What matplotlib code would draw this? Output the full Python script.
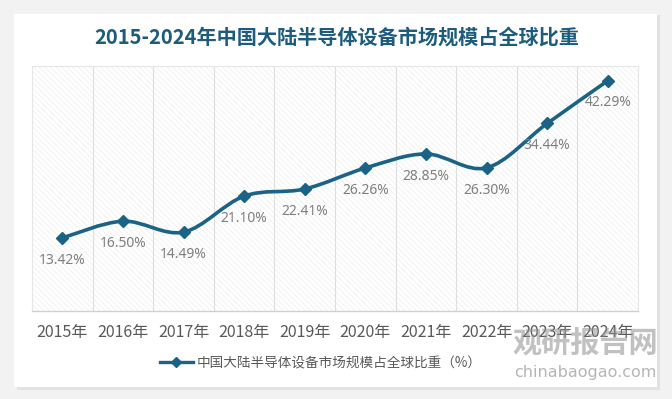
import matplotlib
matplotlib.use("Agg")
import matplotlib.pyplot as plt
from matplotlib.path import Path
from matplotlib.patches import PathPatch, Rectangle
from matplotlib.lines import Line2D
import numpy as np

plt.rcParams['font.family'] = ['Noto Sans CJK SC', 'DejaVu Sans']
plt.rcParams['hatch.linewidth'] = 0.5

years = ['2015年', '2016年', '2017年', '2018年', '2019年', '2020年', '2021年', '2022年', '2023年', '2024年']
share = [13.42, 16.50, 14.49, 21.10, 22.41, 26.26, 28.85, 26.30, 34.44, 42.29]
series_name = '中国大陆半导体设备市场规模占全球比重（%）'
title = '2015-2024年中国大陆半导体设备市场规模占全球比重'

LINE = '#1b6386'
W, H = 672, 399
fig = plt.figure(figsize=(W / 100, H / 100), dpi=100)
fig.patch.set_facecolor('#f2f2f2')

# card with shadow
fig.patches.append(Rectangle((17 / W, 1 - 390 / H), 643 / W, 375 / H, transform=fig.transFigure,
                             facecolor='#e2e2e2', edgecolor='none', zorder=-3))
fig.patches.append(Rectangle((14 / W, 1 - 387 / H), 643 / W, 373 / H, transform=fig.transFigure,
                             facecolor='white', edgecolor='none', zorder=-2))

ax = fig.add_axes([32 / W, 1 - 311 / H, (638 - 32) / W, (311 - 66) / H])
ax.patch.set_alpha(0)
ax.add_patch(Rectangle((0, 0), 1, 1, transform=ax.transAxes, facecolor='white',
                       edgecolor='#ededed', hatch='\\\\\\\\\\\\', linewidth=0, zorder=0))

x = np.arange(len(share))
y = np.array(share)

# smooth curve (Excel-like Catmull-Rom Bezier through the data points)
verts = [(x[0], y[0])]
codes = [Path.MOVETO]
n = len(x)
for i in range(n - 1):
    p0 = np.array([x[max(i - 1, 0)], y[max(i - 1, 0)]])
    p1 = np.array([x[i], y[i]])
    p2 = np.array([x[i + 1], y[i + 1]])
    p3 = np.array([x[min(i + 2, n - 1)], y[min(i + 2, n - 1)]])
    c1 = p1 + (p2 - p0) / 6
    c2 = p2 - (p3 - p1) / 6
    verts += [tuple(c1), tuple(c2), tuple(p2)]
    codes += [Path.CURVE4] * 3
ax.add_patch(PathPatch(Path(verts, codes), facecolor='none', edgecolor=LINE, linewidth=2.6, zorder=3))
ax.plot(x, y, linestyle='none', marker='D', markersize=6.5, color=LINE, zorder=4)

for xi, yi in zip(x, y):
    ax.annotate(f'{yi:.2f}%', (xi, yi), xytext=(0, -16), textcoords='offset points',
                ha='center', va='center', fontsize=10, color='#7f7f7f',
                family=['Noto Sans', 'DejaVu Sans'], zorder=5)

ax.set_xlim(-0.5, n - 0.5)
ax.set_ylim(0, 45)
ax.set_yticks([])
ax.set_xticks(x)
ax.set_xticklabels(years, fontsize=11.5, color='#595959')
ax.tick_params(axis='x', length=0, pad=9)
for b in np.arange(0.5, n - 0.5, 1):
    ax.axvline(b, color='#dedede', linewidth=0.8, zorder=1)
for s in ['top', 'left', 'right']:
    ax.spines[s].set_color('#e6e6e6')
    ax.spines[s].set_linewidth(0.8)
ax.spines['bottom'].set_color('#d0d0d0')
ax.spines['bottom'].set_linewidth(1.0)

fig.text(337 / W, 1 - 37 / H, title, ha='center', va='center', fontsize=14.5,
         fontweight='bold', color='#1d5c7c')

handle = Line2D([], [], color=LINE, linewidth=2.4, marker='D', markersize=5.5)
fig.legend([handle], [series_name], loc='center', bbox_to_anchor=(321 / W, 1 - 363 / H),
           frameon=False, fontsize=9.8, labelcolor='#595959', handlelength=2.4, handletextpad=0.3)

# watermark
fig.text(585 / W, 1 - 343 / H, '观研报告网', ha='center', va='center', fontsize=21,
         fontweight='bold', color='#8f8f8f', alpha=0.55)
fig.text(585 / W, 1 - 373 / H, 'chinabaogao.com', ha='center', va='center', fontsize=11.5,
         color='#858585', alpha=0.6, family=['DejaVu Sans'])

fig.savefig('out.png', dpi=100, facecolor=fig.get_facecolor())
